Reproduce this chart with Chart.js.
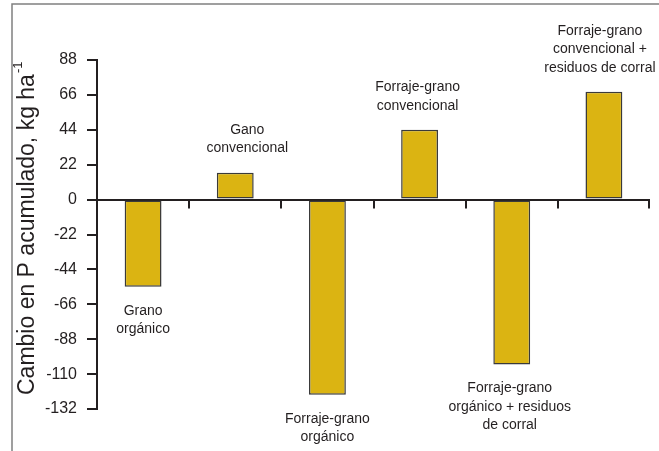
<!DOCTYPE html>
<html>
<head>
<meta charset="utf-8">
<script src="https://cdn.jsdelivr.net/npm/chart.js@4"></script>
<style>
  html, body { margin: 0; padding: 0; background: #fff; }
  #wrap { position: relative; width: 659px; height: 451px; }
</style>
</head>
<body>
<div id="wrap"><canvas id="chart"></canvas></div>
<script>
// category labels (multi-line) and values
const categories = [
  ['Grano', 'orgánico'],
  ['Gano', 'convencional'],
  ['Forraje-grano', 'orgánico'],
  ['Forraje-grano', 'convencional'],
  ['Forraje-grano', 'orgánico + residuos', 'de corral'],
  ['Forraje-grano', 'convencional +', 'residuos de corral']
];
const values = [-55, 17, -123, 44, -104, 68];
const yTicks = [88, 66, 44, 22, 0, -22, -44, -66, -88, -110, -132];
const yTitle = 'Cambio en P acumulado, kg ha';
const yTitleSup = '-1';

const FONT = '"Liberation Sans", Arial, sans-serif';
const INK = '#231f20';

// frame, x-axis ticks at category edges, y title, bar labels
const decor = {
  id: 'decor',
  beforeDraw(chart) {
    const ctx = chart.ctx;
    ctx.save();
    ctx.strokeStyle = '#808080';
    ctx.lineWidth = 1.5;
    ctx.beginPath();
    ctx.moveTo(12, 451);
    ctx.lineTo(12, 4);
    ctx.lineTo(659, 4);
    ctx.stroke();
    ctx.restore();
  },
  afterDatasetsDraw(chart) {
    const ctx = chart.ctx;
    const xs = chart.scales.x, ys = chart.scales.y;
    const y0 = ys.getPixelForValue(0);
    ctx.save();
    // tick marks below the zero line at category boundaries
    ctx.strokeStyle = INK;
    ctx.lineWidth = 2;
    const step = (xs.right - xs.left) / categories.length;
    for (let i = 1; i <= categories.length; i++) {
      const x = Math.round(xs.left + step * i) - (i === categories.length ? 1 : 0);
      ctx.beginPath();
      ctx.moveTo(x, y0);
      ctx.lineTo(x, y0 + 9);
      ctx.stroke();
    }

    // y axis title, rotated, with superscript
    ctx.fillStyle = INK;
    ctx.translate(28, 395);
    ctx.rotate(-Math.PI / 2);
    ctx.font = '23px ' + FONT;
    ctx.textBaseline = 'middle';
    ctx.textAlign = 'left';
    ctx.fillText(yTitle, 0, 0);
    const w = ctx.measureText(yTitle).width;
    ctx.font = '13px ' + FONT;
    ctx.fillText(yTitleSup, w + 1, -10);
    ctx.setTransform(1, 0, 0, 1, 0, 0);

    // bar labels
    const shiftX = [0, 12, 0, -2, -2, -4];
    const gap = 24, lh = 18.5;
    ctx.font = '14px ' + FONT;
    ctx.textAlign = 'center';
    ctx.textBaseline = 'middle';
    chart.getDatasetMeta(0).data.forEach((bar, i) => {
      const lines = categories[i];
      const x = bar.x + shiftX[i];
      if (values[i] >= 0) {
        lines.forEach((t, k) => {
          ctx.fillText(t, x, bar.y - gap - (lines.length - 1 - k) * lh);
        });
      } else {
        lines.forEach((t, k) => {
          ctx.fillText(t, x, bar.y + gap + k * lh);
        });
      }
    });
    ctx.restore();
  }
};

new Chart(document.getElementById('chart'), {
  type: 'bar',
  data: {
    labels: categories.map(c => c.join(' ')),
    datasets: [{
      data: values,
      backgroundColor: '#DBB412',
      borderColor: '#3a3a3a',
      borderWidth: 1.5,
      borderSkipped: false,
      categoryPercentage: 1,
      barPercentage: 0.4
    }]
  },
  options: {
    responsive: true,
    maintainAspectRatio: false,
    animation: false,
    layout: { padding: { left: 0, right: 9, top: 60, bottom: 42 } },
    plugins: { legend: { display: false }, tooltip: { enabled: false } },
    scales: {
      x: {
        display: false,
        grid: { display: false }
      },
      y: {
        min: -132,
        max: 88,
        afterBuildTicks(scale) { scale.ticks = yTicks.map(v => ({ value: v })); },
        afterFit(scale) { scale.width = 97; },
        border: { display: true, color: INK, width: 2 },
        grid: {
          color: c => (c.tick && c.tick.value === 0 ? INK : 'rgba(0,0,0,0)'),
          lineWidth: 2,
          tickColor: INK,
          tickLength: 10,
          tickWidth: 2,
          drawTicks: true
        },
        ticks: {
          color: INK,
          padding: 10,
          font: { family: FONT, size: 16 }
        }
      }
    }
  },
  plugins: [decor]
});
</script>
</body>
</html>
